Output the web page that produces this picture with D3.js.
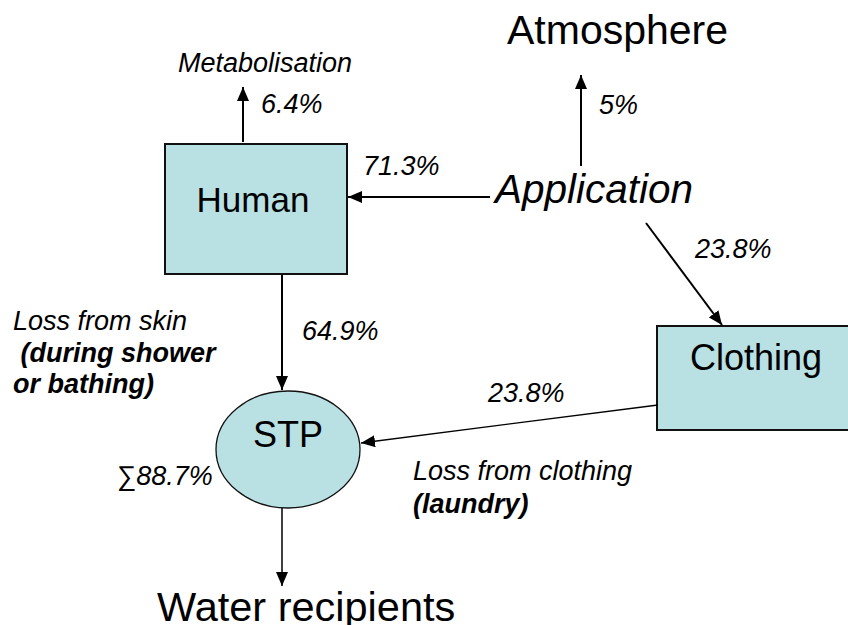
<!DOCTYPE html>
<html>
<head>
<meta charset="utf-8">
<script src="https://cdn.jsdelivr.net/npm/d3@7"></script>
<style>
  body { margin: 0; background: #fff; }
  text { font-family: "Liberation Sans", Arial, sans-serif; fill: #000; }
</style>
</head>
<body>
<div id="chart"></div>
<script>
// flows of the substance (share of applied amount, %)
var flowSources = ["Application", "Application", "Application", "Human", "Human", "Clothing", "STP"];
var flowTargets = ["Human", "Atmosphere", "Clothing", "Metabolisation", "STP", "STP", "Water recipients"];
var flowValues = [71.3, 5, 23.8, 6.4, 64.9, 23.8, null];
var stpTotal = 88.7;

var boxNodes = ["Human", "Clothing"];
var ovalNodes = ["STP"];
var plainNodes = ["Application", "Atmosphere", "Metabolisation", "Water recipients"];

var noteSkin = ["Loss from skin", " (during shower", "or bathing)"];
var noteClothing = ["Loss from clothing", "(laundry)"];

var width = 848, height = 625;

var svg = d3.select("#chart").append("svg")
    .attr("width", width)
    .attr("height", height);

// layout of the diagram
var pos = {
  "Human": {x: 165, y: 144, w: 182, h: 130, tx: 253, ty: 212, size: 35},
  "Clothing": {x: 657, y: 326, w: 200, h: 104, tx: 690, ty: 370, size: 36, anchor: "start"},
  "STP": {cx: 288, cy: 449.5, rx: 72, ry: 58.5, tx: 288, ty: 447, size: 36},
  "Application": {tx: 495, ty: 203, size: 40.5, italic: true, anchor: "start"},
  "Atmosphere": {tx: 507, ty: 44, size: 41, anchor: "start"},
  "Metabolisation": {tx: 178, ty: 72, size: 27, italic: true, anchor: "start"},
  "Water recipients": {tx: 157, ty: 621, size: 41.5, anchor: "start"}
};

var flowLayout = [
  {x1: 490, y1: 197, x2: 348, y2: 197, w: 2, lx: 363, ly: 175, anchor: "start"},
  {x1: 581, y1: 166, x2: 581, y2: 75, w: 2, lx: 599, ly: 114, anchor: "start"},
  {x1: 646, y1: 223, x2: 722, y2: 325, w: 2, lx: 695, ly: 258, anchor: "start"},
  {x1: 243, y1: 142, x2: 243, y2: 87, w: 2, lx: 261, ly: 113, anchor: "start"},
  {x1: 282, y1: 275, x2: 282, y2: 390, w: 2, lx: 302, ly: 340, anchor: "start"},
  {x1: 658, y1: 405, x2: 361, y2: 443, w: 1.3, lx: 488, ly: 402, anchor: "start"},
  {x1: 282, y1: 508, x2: 282, y2: 586, w: 1.5, lx: 0, ly: 0, anchor: "start"}
];

var fill = "#b9e0e3";

svg.append("defs").append("marker")
    .attr("id", "head")
    .attr("markerUnits", "userSpaceOnUse")
    .attr("viewBox", "0 0 14 12")
    .attr("refX", 14)
    .attr("refY", 6)
    .attr("markerWidth", 14)
    .attr("markerHeight", 12)
    .attr("orient", "auto")
  .append("path")
    .attr("d", "M0,0L14,6L0,12Z")
    .attr("fill", "#000");

// boxes
svg.selectAll("rect.node")
  .data(boxNodes)
  .enter().append("rect")
    .attr("class", "node")
    .attr("x", function(d) { return pos[d].x; })
    .attr("y", function(d) { return pos[d].y; })
    .attr("width", function(d) { return pos[d].w; })
    .attr("height", function(d) { return pos[d].h; })
    .attr("fill", fill)
    .attr("stroke", "#111")
    .attr("stroke-width", 2);

svg.selectAll("ellipse.node")
  .data(ovalNodes)
  .enter().append("ellipse")
    .attr("class", "node")
    .attr("cx", function(d) { return pos[d].cx; })
    .attr("cy", function(d) { return pos[d].cy; })
    .attr("rx", function(d) { return pos[d].rx; })
    .attr("ry", function(d) { return pos[d].ry; })
    .attr("fill", fill)
    .attr("stroke", "#111")
    .attr("stroke-width", 1.3);

// node names
svg.selectAll("text.name")
  .data(boxNodes.concat(ovalNodes, plainNodes))
  .enter().append("text")
    .attr("class", "name")
    .attr("x", function(d) { return pos[d].tx; })
    .attr("y", function(d) { return pos[d].ty; })
    .attr("text-anchor", function(d) { return pos[d].anchor || "middle"; })
    .style("font-size", function(d) { return pos[d].size + "px"; })
    .style("font-style", function(d) { return pos[d].italic ? "italic" : "normal"; })
    .text(function(d) { return d; });

// flows
var flows = flowValues.map(function(v, i) {
  return {source: flowSources[i], target: flowTargets[i], value: v, l: flowLayout[i]};
});

svg.selectAll("line.flow")
  .data(flows)
  .enter().append("line")
    .attr("class", "flow")
    .attr("x1", function(d) { return d.l.x1; })
    .attr("y1", function(d) { return d.l.y1; })
    .attr("x2", function(d) { return d.l.x2; })
    .attr("y2", function(d) { return d.l.y2; })
    .attr("stroke", "#000")
    .attr("stroke-width", function(d) { return d.l.w; })
    .attr("marker-end", "url(#head)");

var fmt = function(v) { return String(v) + "%"; };

svg.selectAll("text.value")
  .data(flows.filter(function(d) { return d.value != null; }))
  .enter().append("text")
    .attr("class", "value")
    .attr("x", function(d) { return d.l.lx; })
    .attr("y", function(d) { return d.l.ly; })
    .attr("text-anchor", function(d) { return d.l.anchor; })
    .style("font-size", "27px")
    .style("font-style", "italic")
    .text(function(d) { return fmt(d.value); });

svg.append("text")
    .attr("x", 117)
    .attr("y", 485)
    .style("font-size", "27px")
    .text("\u2211")
  .append("tspan")
    .style("font-style", "italic")
    .text(fmt(stpTotal));

// notes
svg.append("text")
    .attr("x", 13)
    .attr("y", 330)
    .style("font-size", "27px")
    .style("font-style", "italic")
    .selectAll("tspan")
    .data(noteSkin)
    .enter().append("tspan")
      .attr("x", 13)
      .attr("dy", function(d, i) { return i ? 31.5 : 0; })
      .style("font-weight", function(d, i) { return i ? "bold" : "normal"; })
      .style("white-space", "pre")
      .text(function(d) { return d; });

svg.append("text")
    .attr("x", 413)
    .attr("y", 480)
    .style("font-size", "27px")
    .style("font-style", "italic")
    .selectAll("tspan")
    .data(noteClothing)
    .enter().append("tspan")
      .attr("x", 413)
      .attr("dy", function(d, i) { return i ? 33 : 0; })
      .style("font-weight", function(d, i) { return i ? "bold" : "normal"; })
      .text(function(d) { return d; });
</script>
</body>
</html>
